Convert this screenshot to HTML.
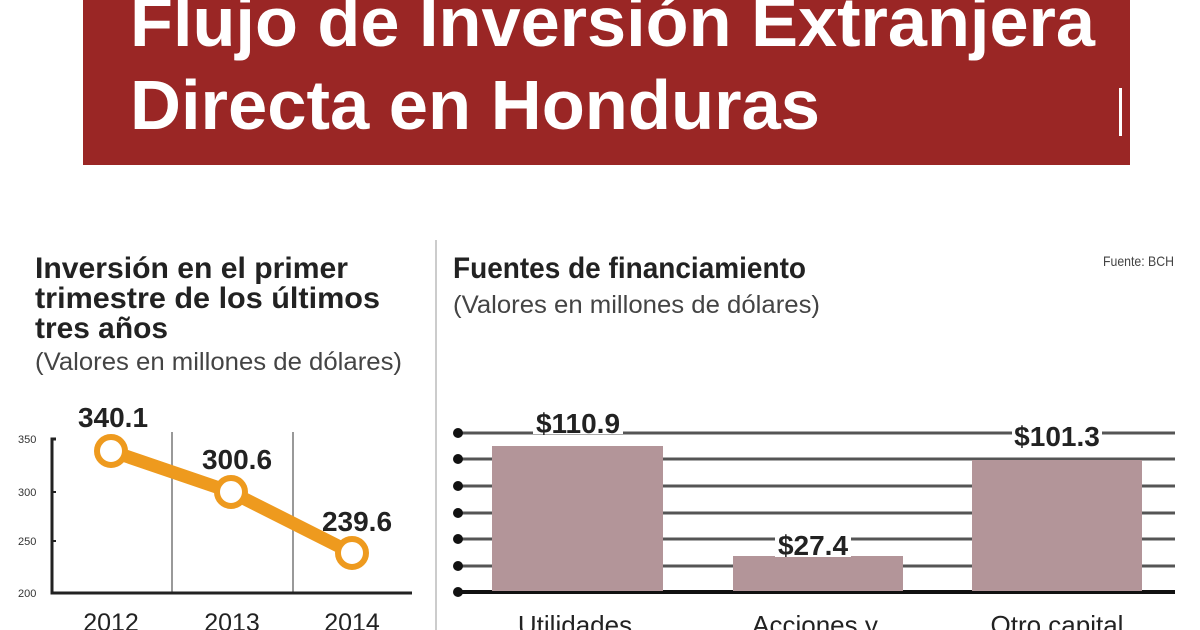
<!DOCTYPE html>
<html><head><meta charset="utf-8"><style>
html,body{margin:0;padding:0;background:#fff;}
svg{display:block;}
text{font-family:"Liberation Sans Narrow","Liberation Sans",sans-serif;}
</style></head><body>
<svg width="1200" height="630" viewBox="0 0 1200 630" xmlns="http://www.w3.org/2000/svg">
<rect width="1200" height="630" fill="#fff"/>
<rect x="83" y="0" width="1047" height="165" fill="#9a2625"/>
<rect x="1119" y="88" width="3" height="48" fill="#fff"/>
<text x="130" y="46" font-size="70" font-weight="bold" fill="#fff" textLength="965" lengthAdjust="spacingAndGlyphs">Flujo de Inversión Extranjera</text>
<text x="130" y="129" font-size="70" font-weight="bold" fill="#fff" textLength="690" lengthAdjust="spacingAndGlyphs">Directa en Honduras</text>

<line x1="436" y1="240" x2="436" y2="630" stroke="#ccc" stroke-width="2"/>

<g fill="#222">
<text x="35" y="278" font-size="30" font-weight="bold" textLength="313" lengthAdjust="spacingAndGlyphs">Inversión en el primer</text>
<text x="35" y="308" font-size="30" font-weight="bold" textLength="345" lengthAdjust="spacingAndGlyphs">trimestre de los últimos</text>
<text x="35" y="338" font-size="30" font-weight="bold" textLength="133" lengthAdjust="spacingAndGlyphs">tres años</text>
<text x="35" y="370" font-size="25" fill="#444" textLength="367" lengthAdjust="spacingAndGlyphs">(Valores en millones de dólares)</text>
<text x="453" y="278" font-size="30" font-weight="bold" textLength="353" lengthAdjust="spacingAndGlyphs">Fuentes de financiamiento</text>
<text x="453" y="313" font-size="25" fill="#444" textLength="367" lengthAdjust="spacingAndGlyphs">(Valores en millones de dólares)</text>
<text x="1103" y="266" font-size="14" fill="#444" textLength="71" lengthAdjust="spacingAndGlyphs">Fuente: BCH</text>
</g>

<!-- line chart -->
<line x1="172" y1="432" x2="172" y2="593" stroke="#999" stroke-width="2"/>
<line x1="293" y1="432" x2="293" y2="593" stroke="#999" stroke-width="2"/>
<path d="M56 439 H52 V593 H412" fill="none" stroke="#222" stroke-width="3"/>
<line x1="52" y1="492" x2="56" y2="492" stroke="#222" stroke-width="2"/>
<line x1="52" y1="541" x2="56" y2="541" stroke="#222" stroke-width="2"/>
<g font-size="11" fill="#333">
<text x="18" y="443">350</text><text x="18" y="496">300</text><text x="18" y="545">250</text><text x="18" y="597">200</text>
</g>
<polyline points="111,451 231,492 352,553" fill="none" stroke="#ee9a1e" stroke-width="13"/>
<g fill="#fff" stroke="#ee9a1e" stroke-width="6">
<circle cx="111" cy="451" r="14"/><circle cx="231" cy="492" r="14"/><circle cx="352" cy="553" r="14"/>
</g>
<g font-size="28" font-weight="bold" fill="#222" text-anchor="middle">
<text x="113" y="427">340.1</text><text x="237" y="469">300.6</text><text x="357" y="531">239.6</text>
</g>
<g font-size="25" fill="#222" text-anchor="middle">
<text x="111" y="631">2012</text><text x="232" y="631">2013</text><text x="352" y="631">2014</text>
</g>

<!-- bar chart -->
<g stroke="#555" stroke-width="3">
<line x1="458" y1="433" x2="1175" y2="433"/><line x1="458" y1="459" x2="1175" y2="459"/>
<line x1="458" y1="486" x2="1175" y2="486"/><line x1="458" y1="513" x2="1175" y2="513"/>
<line x1="458" y1="539" x2="1175" y2="539"/><line x1="458" y1="566" x2="1175" y2="566"/>
</g>
<line x1="458" y1="592" x2="1175" y2="592" stroke="#111" stroke-width="4"/>
<g fill="#111">
<circle cx="458" cy="433" r="5"/><circle cx="458" cy="459" r="5"/><circle cx="458" cy="486" r="5"/><circle cx="458" cy="513" r="5"/><circle cx="458" cy="539" r="5"/><circle cx="458" cy="566" r="5"/><circle cx="458" cy="592" r="5"/>
</g>
<g fill="#b39599">
<rect x="492" y="446" width="171" height="145"/>
<rect x="733" y="556" width="170" height="35"/>
<rect x="972" y="460" width="170" height="131"/>
</g>
<g font-size="28" font-weight="bold" fill="#222" text-anchor="middle">
<rect x="533" y="410" width="90" height="24" fill="#fff"/>
<text x="578" y="433">$110.9</text>
<rect x="775" y="533" width="76" height="24" fill="#fff"/>
<text x="813" y="555">$27.4</text>
<rect x="1012" y="423" width="90" height="26" fill="#fff"/>
<text x="1057" y="446">$101.3</text>
</g>
<g font-size="26" fill="#222" text-anchor="middle">
<text x="575" y="634">Utilidades</text><text x="815" y="634">Acciones y</text><text x="1057" y="634">Otro capital</text>
</g>
</svg>
</body></html>
